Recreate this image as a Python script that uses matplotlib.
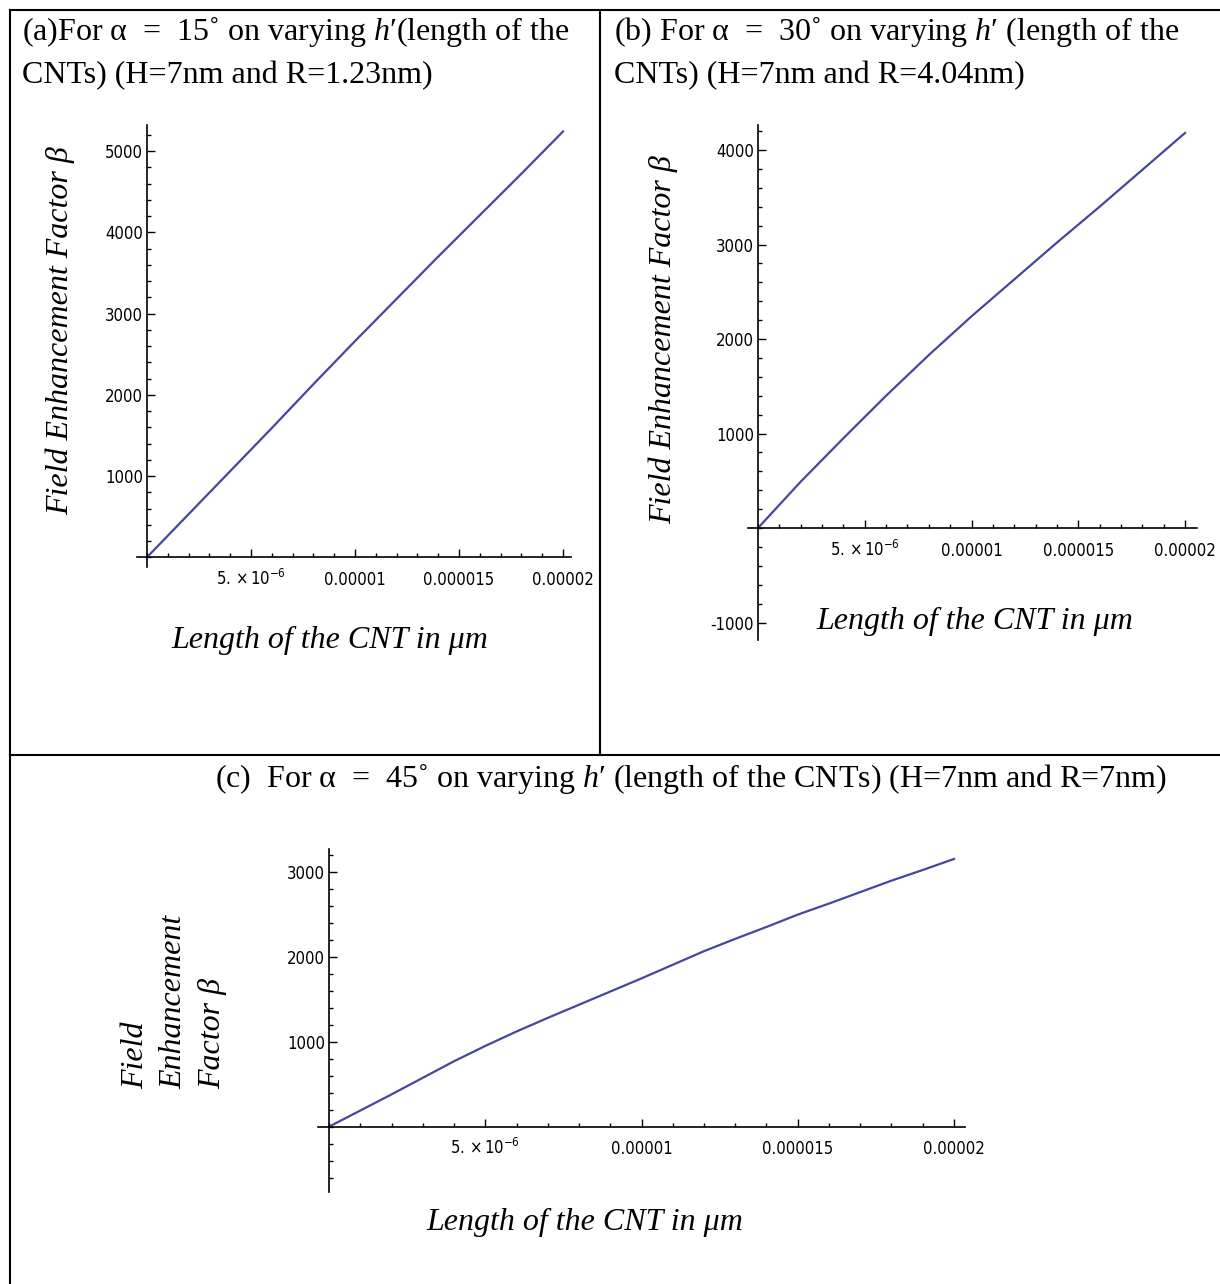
import matplotlib
matplotlib.use('Agg')
import matplotlib.pyplot as plt
from matplotlib.lines import Line2D
from matplotlib.ticker import MultipleLocator, FixedLocator, FixedFormatter

plt.rcParams['font.family'] = ['DejaVu Sans']
plt.rcParams['font.stretch'] = 'condensed'
plt.rcParams['axes.unicode_minus'] = False
plt.rcParams['mathtext.fontset'] = 'custom'
plt.rcParams['mathtext.rm'] = 'Liberation Serif'
plt.rcParams['mathtext.it'] = 'Liberation Serif:italic'
plt.rcParams['mathtext.sf'] = 'DejaVu Sans:stretch=condensed'

# CNT length (x) and field enhancement factor beta (y)
length_ab = [0, 2e-6, 4e-6, 6e-6, 8e-6, 1e-5, 1.2e-5, 1.4e-5, 1.6e-5, 1.8e-5, 2e-5]
beta_a = [0, 530, 1060, 1590, 2130, 2660, 3180, 3700, 4210, 4720, 5240]
beta_b = [0, 490, 950, 1400, 1830, 2240, 2630, 3020, 3400, 3790, 4180]
length_c = [0, 1e-6, 2e-6, 3e-6, 4e-6, 5e-6, 6e-6, 7e-6, 8e-6, 9e-6, 1e-5,
            1.1e-5, 1.2e-5, 1.3e-5, 1.4e-5, 1.5e-5, 1.6e-5, 1.7e-5, 1.8e-5, 1.9e-5, 2e-5]
beta_c = [0, 190, 380, 575, 770, 950, 1120, 1280, 1435, 1590, 1745,
          1905, 2065, 2210, 2350, 2495, 2625, 2760, 2895, 3020, 3150]

x_ticks = [5e-6, 1e-5, 1.5e-5, 2e-5]
x_ticklabels = [r'$\mathsf{5.\times10^{-6}}$', '0.00001', '0.000015', '0.00002']
y_ticks_a = [1000, 2000, 3000, 4000, 5000]
y_ticks_b = [-1000, 1000, 2000, 3000, 4000]
y_ticks_c = [1000, 2000, 3000]

titles = {
    'a': ['(a)For α  =  15˚ on varying $h$′(length of the', 'CNTs) (H=7nm and R=1.23nm)'],
    'b': ['(b) For α  =  30˚ on varying $h$′ (length of the', 'CNTs) (H=7nm and R=4.04nm)'],
    'c': ['(c)  For α  =  45˚ on varying $h$′ (length of the CNTs) (H=7nm and R=7nm)'],
}
xlabel = 'Length of the CNT in μm'
ylabel = 'Field Enhancement Factor β'

W, H = 1220, 1284
fig = plt.figure(figsize=(W / 100, H / 100), dpi=100)
line_color = '#4646a0'
serif = ['Liberation Serif', 'DejaVu Serif']


def fx(px):
    return px / W


def fy(py):
    return 1 - py / H


def make_axes(box, origin, scale, x, y, yticks):
    # box: left, top, right, bottom in pixels; origin: pixel of (0,0); scale: px per unit
    l, t, r, b = box
    ax = fig.add_axes([fx(l), fy(b), (r - l) / W, (b - t) / H])
    ax.plot(x, y, color=line_color, lw=1.6)
    ax.set_xlim((l - origin[0]) / scale[0], (r - origin[0]) / scale[0])
    ax.set_ylim((origin[1] - b) / scale[1], (origin[1] - t) / scale[1])
    for s in ['top', 'right']:
        ax.spines[s].set_visible(False)
    ax.spines['left'].set_position(('data', 0))
    ax.spines['bottom'].set_position(('data', 0))
    ax.spines['left'].set_linewidth(1.2)
    ax.spines['bottom'].set_linewidth(1.2)
    ax.patch.set_alpha(0)
    ax.xaxis.set_major_locator(FixedLocator(x_ticks))
    ax.xaxis.set_major_formatter(FixedFormatter(x_ticklabels))
    ax.xaxis.set_minor_locator(MultipleLocator(1e-6))
    ax.yaxis.set_major_locator(FixedLocator(yticks))
    ax.yaxis.set_minor_locator(MultipleLocator(200))
    ax.tick_params(which='both', direction='in', width=1, labelsize=12)
    ax.tick_params(which='major', length=6)
    ax.tick_params(which='minor', length=3)
    ax.tick_params(axis='x', pad=20)
    ax.tick_params(axis='y', pad=3)
    for lab in ax.get_xticklabels():
        lab.set_verticalalignment('baseline')
    return ax


ax_a = make_axes((137, 125, 571, 567), (147, 557.25), (416 / 2e-5, 0.08125), length_ab, beta_a, y_ticks_a)
ax_b = make_axes((748, 125, 1197, 640), (758, 528), (427 / 2e-5, 0.0945), length_ab, beta_b, y_ticks_b)
ax_c = make_axes((318, 849, 965, 1192), (329, 1126.7), (625 / 2e-5, 0.085), length_c, beta_c, y_ticks_c)

# table borders
for (x0, y0, x1, y1) in [(10, 10, 1220, 10), (10, 10, 10, 1284), (600, 10, 600, 755), (10, 755, 1220, 755)]:
    fig.add_artist(Line2D([fx(x0), fx(x1)], [fy(y0), fy(y1)], color='black', lw=1.5))

# panel titles
tkw = dict(family=serif, fontsize=23, va='baseline', fontstretch='normal')
fig.text(fx(22), fy(40), titles['a'][0], **tkw)
fig.text(fx(22), fy(83), titles['a'][1], **tkw)
fig.text(fx(614), fy(40), titles['b'][0], **tkw)
fig.text(fx(614), fy(83), titles['b'][1], **tkw)
fig.text(fx(215), fy(787), titles['c'][0], **tkw)

# axis labels
lkw = dict(family=serif, style='italic', fontsize=23, fontstretch='normal')
fig.text(fx(330), fy(640), xlabel, ha='center', va='center', **lkw)
fig.text(fx(975), fy(621), xlabel, ha='center', va='center', **lkw)
fig.text(fx(585), fy(1222), xlabel, ha='center', va='center', **lkw)
fig.text(fx(60), fy(331), ylabel, rotation=90, ha='center', va='center', **lkw)
fig.text(fx(663), fy(340), ylabel, rotation=90, ha='center', va='center', **lkw)
fig.text(fx(174), fy(1089), 'Field\nEnhancement\nFactor β', rotation=90, ha='center', va='bottom',
         multialignment='left', linespacing=1.42, **lkw)

fig.savefig('out.png', dpi=100)
